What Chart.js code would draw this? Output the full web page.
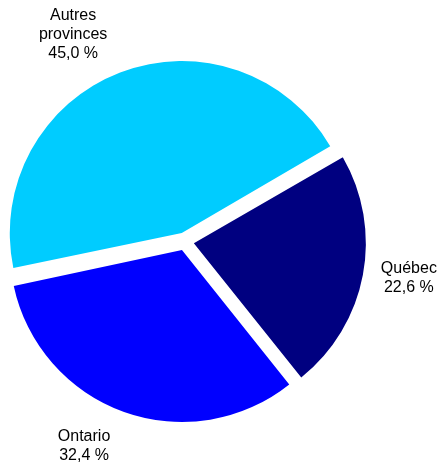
<!DOCTYPE html>
<html>
<head>
<meta charset="utf-8">
<script src="https://cdn.jsdelivr.net/npm/chart.js@4/dist/chart.umd.min.js"></script>
<style>
  html, body { margin: 0; padding: 0; background: #ffffff; }
  #wrap { width: 441px; height: 466px; }
</style>
</head>
<body>
<div id="wrap"><canvas id="c" width="441" height="466"></canvas></div>
<script>
// ---- data ----
const categories = ["Québec", "Ontario", "Autres provinces"];
const labelLines = [["Québec"], ["Ontario"], ["Autres", "provinces"]];
const shares = [22.6, 32.4, 45.0];
const sliceColors = ["#000080", "#0000FF", "#00CCFF"];

// ---- styling ----
const explodePx = 9;        // how far each slice is pulled out from the centre
const pieRadius = 172;
// label placement nudges relative to the slice's outer mid point
const labelNudges = [[46, -2], [-40, 29], [-47, -53]];

const fmt = v => v.toFixed(1).replace('.', ',') + ' %';

// Chart.js grows wide slices a little when offset is used; keep all radii equal.
const equalRadiusPlugin = {
  id: 'equalRadius',
  beforeDatasetsDraw(chart) {
    const meta = chart.getDatasetMeta(0);
    meta.data.forEach(arc => {
      const off = (arc.options.offset || 0) / 4;
      const circ = arc.endAngle - arc.startAngle;
      const fix = 1 - Math.sin(Math.min(Math.PI, circ));
      arc.outerRadius = pieRadius - off * fix;
    });
  }
};

const labelPlugin = {
  id: 'sliceLabels',
  afterDraw(chart) {
    const ctx = chart.ctx;
    const meta = chart.getDatasetMeta(0);
    ctx.save();
    ctx.fillStyle = '#000000';
    ctx.font = '16px "Liberation Sans", Arial, sans-serif';
    ctx.textAlign = 'center';
    ctx.textBaseline = 'alphabetic';
    meta.data.forEach((arc, i) => {
      const mid = (arc.startAngle + arc.endAngle) / 2;
      const r = pieRadius + explodePx;
      const ax = arc.x + Math.cos(mid) * r + labelNudges[i][0];
      const ay = arc.y + Math.sin(mid) * r + labelNudges[i][1];
      const lines = labelLines[i].concat([fmt(shares[i])]);
      lines.forEach((t, k) => ctx.fillText(t, ax, ay + k * 19));
    });
    ctx.restore();
  }
};

new Chart(document.getElementById('c'), {
  type: 'pie',
  data: {
    labels: categories,
    datasets: [{
      data: shares,
      backgroundColor: sliceColors,
      borderWidth: 0,
      offset: explodePx * 4,
      hoverOffset: 0
    }]
  },
  options: {
    responsive: false,
    animation: false,
    rotation: 60,
    radius: pieRadius,
    layout: { padding: { left: 0, right: 71, top: 17, bottom: 0 } },
    plugins: {
      legend: { display: false },
      tooltip: { enabled: false }
    }
  },
  plugins: [equalRadiusPlugin, labelPlugin]
});
</script>
</body>
</html>
